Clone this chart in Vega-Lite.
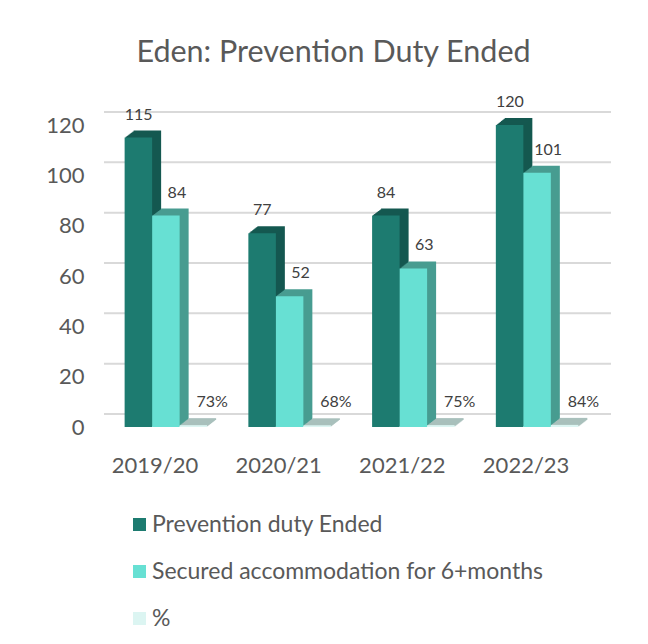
{
  "$schema": "https://vega.github.io/schema/vega-lite/v6.json",
  "width": 495,
  "height": 302,
  "autosize": {"type": "none"},
  "padding": {"left": 104, "top": 125, "right": 49, "bottom": 217},
  "title": {"text": "Eden: Prevention Duty Ended", "fontSize": 30.5, "fontWeight": "normal", "color": "#595959", "font": "Lato", "dx": -18, "offset": 26},
  "config": {"font": "Lato", "view": {"stroke": null}},
  "datasets": {
    "main": [
      {"year": "2019/20", "series": "Prevention duty Ended", "value": 115},
      {"year": "2019/20", "series": "Secured accommodation for 6+months", "value": 84},
      {"year": "2019/20", "series": "%", "value": 0.73},
      {"year": "2020/21", "series": "Prevention duty Ended", "value": 77},
      {"year": "2020/21", "series": "Secured accommodation for 6+months", "value": 52},
      {"year": "2020/21", "series": "%", "value": 0.68},
      {"year": "2021/22", "series": "Prevention duty Ended", "value": 84},
      {"year": "2021/22", "series": "Secured accommodation for 6+months", "value": 63},
      {"year": "2021/22", "series": "%", "value": 0.75},
      {"year": "2022/23", "series": "Prevention duty Ended", "value": 120},
      {"year": "2022/23", "series": "Secured accommodation for 6+months", "value": 101},
      {"year": "2022/23", "series": "%", "value": 0.84}
    ],
    "grid": [{"tick": 0}, {"tick": 20}, {"tick": 40}, {"tick": 60}, {"tick": 80}, {"tick": 100}, {"tick": 120}]
  },
  "layer": [
    {
      "data": {"name": "grid"},
      "mark": {"type": "rule", "color": "#d9d9d9", "strokeWidth": 2, "yOffset": -13, "xOffset": 12, "x2Offset": 14},
      "encoding": {
        "y": {"field": "tick", "type": "quantitative", "scale": {"domain": [0, 120], "nice": false},
          "axis": {"title": null, "values": [0, 20, 40, 60, 80, 100, 120], "grid": false, "ticks": false, "domain": false, "labelFontSize": 22, "labelColor": "#595959", "labelPadding": 20}}
      }
    },
    {
      "data": {"name": "main"},
      "encoding": {
        "x": {"field": "year", "type": "nominal", "sort": null,
          "scale": {"paddingInner": 0.333, "paddingOuter": 0.1667},
          "axis": {"title": null, "labelAngle": 0, "ticks": false, "domain": false, "labelFontSize": 22, "labelColor": "#595959", "labelPadding": 28, "labelOffset": -11}},
        "y": {"field": "value", "type": "quantitative", "scale": {"domain": [0, 120], "nice": false},
          "axis": {"title": null, "values": [0, 20, 40, 60, 80, 100, 120], "grid": false, "ticks": false, "domain": false, "labelFontSize": 22, "labelColor": "#595959", "labelPadding": 20}}
      },
      "layer": [
        {
          "encoding": {
            "color": {"field": "series", "type": "nominal", "legend": null,
              "scale": {"domain": ["Prevention duty Ended", "Secured accommodation for 6+months", "%"], "range": ["#155850", "#489c91", "#a9c0bc"]}}
          },
          "layer": [
            {"mark": {"type": "bar", "yOffset": -7, "y2Offset": -7, "strokeWidth": 0},
             "encoding": {"xOffset": {"field": "series", "type": "nominal", "scale": {"domain": ["Prevention duty Ended", "Secured accommodation for 6+months", "%"], "range": [9, 91.5], "paddingInner": 0, "paddingOuter": 0}}}},
            {"mark": {"type": "bar", "yOffset": -6.2, "y2Offset": -6.2, "strokeWidth": 0},
             "encoding": {"xOffset": {"field": "series", "type": "nominal", "scale": {"domain": ["Prevention duty Ended", "Secured accommodation for 6+months", "%"], "range": [8, 90.5], "paddingInner": 0, "paddingOuter": 0}}}},
            {"mark": {"type": "bar", "yOffset": -5.4, "y2Offset": -5.4, "strokeWidth": 0},
             "encoding": {"xOffset": {"field": "series", "type": "nominal", "scale": {"domain": ["Prevention duty Ended", "Secured accommodation for 6+months", "%"], "range": [7, 89.5], "paddingInner": 0, "paddingOuter": 0}}}},
            {"mark": {"type": "bar", "yOffset": -4.7, "y2Offset": -4.7, "strokeWidth": 0},
             "encoding": {"xOffset": {"field": "series", "type": "nominal", "scale": {"domain": ["Prevention duty Ended", "Secured accommodation for 6+months", "%"], "range": [6, 88.5], "paddingInner": 0, "paddingOuter": 0}}}},
            {"mark": {"type": "bar", "yOffset": -3.9, "y2Offset": -3.9, "strokeWidth": 0},
             "encoding": {"xOffset": {"field": "series", "type": "nominal", "scale": {"domain": ["Prevention duty Ended", "Secured accommodation for 6+months", "%"], "range": [5, 87.5], "paddingInner": 0, "paddingOuter": 0}}}},
            {"mark": {"type": "bar", "yOffset": -3.1, "y2Offset": -3.1, "strokeWidth": 0},
             "encoding": {"xOffset": {"field": "series", "type": "nominal", "scale": {"domain": ["Prevention duty Ended", "Secured accommodation for 6+months", "%"], "range": [4, 86.5], "paddingInner": 0, "paddingOuter": 0}}}},
            {"mark": {"type": "bar", "yOffset": -2.3, "y2Offset": -2.3, "strokeWidth": 0},
             "encoding": {"xOffset": {"field": "series", "type": "nominal", "scale": {"domain": ["Prevention duty Ended", "Secured accommodation for 6+months", "%"], "range": [3, 85.5], "paddingInner": 0, "paddingOuter": 0}}}},
            {"mark": {"type": "bar", "yOffset": -1.6, "y2Offset": -1.6, "strokeWidth": 0},
             "encoding": {"xOffset": {"field": "series", "type": "nominal", "scale": {"domain": ["Prevention duty Ended", "Secured accommodation for 6+months", "%"], "range": [2, 84.5], "paddingInner": 0, "paddingOuter": 0}}}},
            {"mark": {"type": "bar", "yOffset": -0.8, "y2Offset": -0.8, "strokeWidth": 0},
             "encoding": {"xOffset": {"field": "series", "type": "nominal", "scale": {"domain": ["Prevention duty Ended", "Secured accommodation for 6+months", "%"], "range": [1, 83.5], "paddingInner": 0, "paddingOuter": 0}}}}
          ],
          "resolve": {"scale": {"xOffset": "independent"}}
        },
        {
          "mark": {"type": "bar", "strokeWidth": 0},
          "encoding": {
            "xOffset": {"field": "series", "type": "nominal", "scale": {"domain": ["Prevention duty Ended", "Secured accommodation for 6+months", "%"], "range": [0, 82.5], "paddingInner": 0, "paddingOuter": 0}},
            "color": {"field": "series", "type": "nominal",
              "scale": {"domain": ["Prevention duty Ended", "Secured accommodation for 6+months", "%"], "range": ["#1d7b70", "#67e0d3", "#dcf5f2"]},
              "legend": {"orient": "none", "legendX": 24, "legendY": 388, "title": null, "direction": "vertical", "labelFontSize": 23, "labelColor": "#595959", "symbolType": "square", "symbolSize": 169, "symbolStrokeWidth": 0, "rowPadding": 23, "labelOffset": 1, "labelLimit": 500}}
          }
        },
        {
          "transform": [{"filter": "datum.series === 'Prevention duty Ended'"}],
          "mark": {"type": "text", "dy": -23, "dx": 14, "baseline": "middle", "fontSize": 16, "color": "#404040"},
          "encoding": {
            "xOffset": {"field": "series", "type": "nominal", "scale": {"domain": ["Prevention duty Ended", "Secured accommodation for 6+months", "%"], "range": [0, 82.5], "paddingInner": 0, "paddingOuter": 0}},
            "text": {"field": "value", "type": "quantitative"}}
        },
        {
          "transform": [{"filter": "datum.series === 'Secured accommodation for 6+months'"}],
          "mark": {"type": "text", "dy": -23, "dx": 11, "baseline": "middle", "fontSize": 16, "color": "#404040"},
          "encoding": {
            "xOffset": {"field": "series", "type": "nominal", "scale": {"domain": ["Prevention duty Ended", "Secured accommodation for 6+months", "%"], "range": [0, 82.5], "paddingInner": 0, "paddingOuter": 0}},
            "text": {"field": "value", "type": "quantitative"}}
        },
        {
          "transform": [{"filter": "datum.series === '%'"}],
          "mark": {"type": "text", "dy": -23, "dx": 5, "baseline": "middle", "fontSize": 16, "color": "#404040"},
          "encoding": {
            "xOffset": {"field": "series", "type": "nominal", "scale": {"domain": ["Prevention duty Ended", "Secured accommodation for 6+months", "%"], "range": [0, 82.5], "paddingInner": 0, "paddingOuter": 0}},
            "text": {"field": "value", "type": "quantitative", "format": ".0%"}}
        }
      ],
      "resolve": {"scale": {"color": "independent", "xOffset": "independent"}}
    }
  ]
}
